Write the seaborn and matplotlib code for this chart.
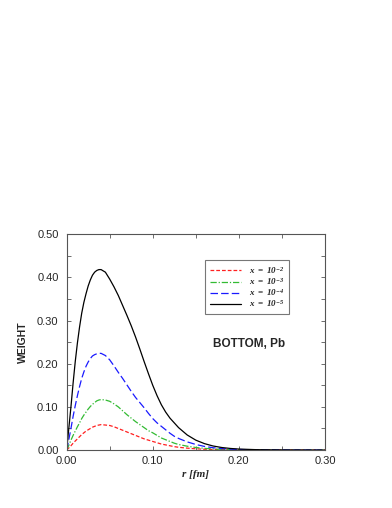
import numpy as np
import pandas as pd
import matplotlib
matplotlib.use("Agg")
import matplotlib.pyplot as plt
import seaborn as sns
from matplotlib.ticker import MultipleLocator, FormatStrFormatter

# ---- data ----
r = [0.0, 0.0025, 0.005, 0.0075, 0.01, 0.0125, 0.015, 0.0175, 0.02, 0.0225, 0.025,
     0.0275, 0.03, 0.0325, 0.035, 0.0375, 0.04,
     0.045, 0.05, 0.055, 0.06, 0.065, 0.07, 0.075, 0.08, 0.085, 0.09, 0.095, 0.10,
     0.105, 0.11, 0.115, 0.12, 0.125,
     0.13, 0.14, 0.15, 0.16, 0.17, 0.18, 0.19, 0.20,
     0.22, 0.25, 0.30]
w_1e2 = [0, 0.005, 0.010, 0.016, 0.021, 0.026, 0.031, 0.036, 0.040, 0.044, 0.047,
         0.050, 0.053, 0.055, 0.057, 0.058, 0.059,
         0.058, 0.057, 0.054, 0.050, 0.046, 0.042, 0.038, 0.034, 0.030, 0.026, 0.023, 0.020,
         0.017, 0.014, 0.012, 0.010, 0.008,
         0.0065, 0.0045, 0.003, 0.002, 0.0013, 0.0009, 0.0006, 0.0004,
         0.0002, 0.0001, 0]
w_1e3 = [0, 0.011, 0.023, 0.034, 0.044, 0.054, 0.063, 0.073, 0.081, 0.088, 0.095,
         0.101, 0.106, 0.110, 0.114, 0.116, 0.117,
         0.116, 0.113, 0.107, 0.100, 0.091, 0.082, 0.074, 0.066, 0.059, 0.052, 0.045, 0.040,
         0.034, 0.028, 0.024, 0.020, 0.016,
         0.013, 0.009, 0.006, 0.004, 0.0026, 0.0017, 0.0011, 0.0007,
         0.0003, 0.0001, 0]
w_1e4 = [0, 0.024, 0.050, 0.078, 0.103, 0.126, 0.147, 0.166, 0.181, 0.194, 0.204,
         0.212, 0.218, 0.221, 0.223, 0.224, 0.224,
         0.219, 0.209, 0.195, 0.180, 0.166, 0.151, 0.136, 0.122, 0.110, 0.098, 0.085, 0.073,
         0.063, 0.055, 0.047, 0.039, 0.032,
         0.027, 0.019, 0.013, 0.0085, 0.0055, 0.0035, 0.0022, 0.0014,
         0.0006, 0.0002, 0]
w_1e5 = [0, 0.050, 0.100, 0.155, 0.205, 0.248, 0.285, 0.317, 0.342, 0.362, 0.380,
         0.394, 0.405, 0.412, 0.416, 0.418, 0.418,
         0.412, 0.396, 0.378, 0.358, 0.335, 0.312, 0.288, 0.262, 0.234, 0.205, 0.177, 0.150,
         0.126, 0.105, 0.088, 0.074, 0.063,
         0.052, 0.035, 0.023, 0.015, 0.0095, 0.006, 0.0038, 0.0024,
         0.001, 0.0003, 0]
labels = [r"$x\ =\ 10^{-2}$", r"$x\ =\ 10^{-3}$", r"$x\ =\ 10^{-4}$", r"$x\ =\ 10^{-5}$"]
xticks = [0.00, 0.10, 0.20, 0.30]
yticks = [0.00, 0.10, 0.20, 0.30, 0.40, 0.50]

sns.set_style("ticks")
plt.rcParams['font.family'] = ['Liberation Sans', 'DejaVu Sans']
plt.rcParams['mathtext.fontset'] = 'custom'
plt.rcParams['mathtext.rm'] = 'Liberation Serif:bold:italic'
plt.rcParams['mathtext.it'] = 'Liberation Serif:bold:italic'
plt.rcParams['mathtext.bf'] = 'Liberation Serif:bold:italic'

fig = plt.figure(figsize=(3.92, 5.08), dpi=100)
ax = fig.add_axes([0.170, 0.114, 0.659, 0.425])

series = [w_1e2, w_1e3, w_1e4, w_1e5]
colors = ["#ff2020", "#33bb33", "#1a1aff", "#000000"]
dashes = [(0, (3, 1.6)), (0, (5, 1.5, 1, 1.5)), (0, (6, 2.5)), "-"]

for vals, lab, c, ls in zip(series, labels, colors, dashes):
    df = pd.DataFrame({"r": r, "w": vals})
    sns.lineplot(data=df, x="r", y="w", ax=ax, color=c, linewidth=0.9,
                 linestyle=ls, label=lab)

ax.set_xlim(0, 0.30)
ax.set_ylim(0, 0.50)
ax.set_xticks(xticks)
ax.set_yticks(yticks)
ax.xaxis.set_minor_locator(MultipleLocator(0.05))
ax.yaxis.set_minor_locator(MultipleLocator(0.05))
ax.xaxis.set_major_formatter(FormatStrFormatter("%.2f"))
ax.yaxis.set_major_formatter(FormatStrFormatter("%.2f"))
ax.tick_params(which="both", direction="in", top=True, right=True,
               length=3, width=0.6, color="#555555", labelsize=8)
ax.tick_params(axis="y", which="both", pad=5.8)
ax.tick_params(axis="x", which="both", pad=4)
for s in ax.spines.values():
    s.set_visible(True)
    s.set_linewidth(0.8)
    s.set_color("#555555")

ax.set_xlabel("r [fm]", fontsize=8, fontfamily="Liberation Serif",
              fontweight="bold", fontstyle="italic", labelpad=3)
ax.set_ylabel("WEIGHT", fontsize=7.5, fontweight="bold", labelpad=6.5)

ax.text(0.212, 0.245, "BOTTOM, Pb", fontsize=8.5, fontweight="bold",
        ha="center", va="center")

leg = ax.legend(loc="upper left", frameon=True, fontsize=6.5, handlelength=3.5,
                borderpad=0.5, labelspacing=0.02, handletextpad=0.9,
                borderaxespad=0, fancybox=False)
leg.set_bbox_to_anchor((205 / 392, 1 - 260 / 508), transform=fig.transFigure)
frame = leg.get_frame()
frame.set_edgecolor("#555555")
frame.set_linewidth(0.8)

fig.savefig("out.png", dpi=100)
